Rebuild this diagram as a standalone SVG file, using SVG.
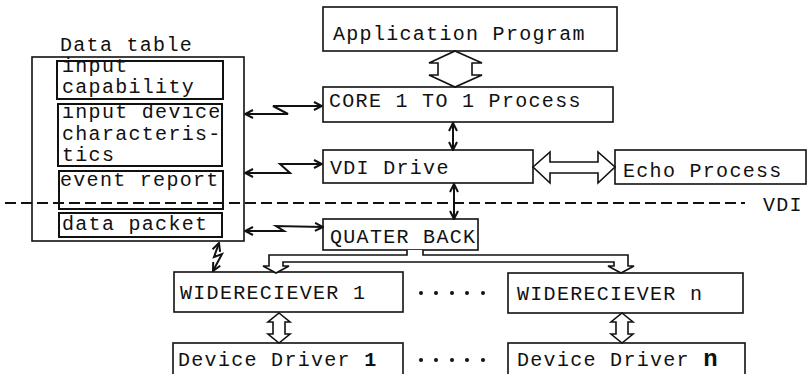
<svg xmlns="http://www.w3.org/2000/svg" width="809" height="374" viewBox="0 0 809 374">
<defs>
<style>
.t{font-family:"Liberation Mono","Courier New",monospace;font-size:20px;letter-spacing:1.3px;fill:#111}
.b{fill:#fff;stroke:#111;stroke-width:1.6}
.ib{fill:none;stroke:#111;stroke-width:2}
.c{fill:none;stroke:#111;stroke-width:2;marker-start:url(#ah);marker-end:url(#ah)}
.h{fill:#fff;stroke:#111;stroke-width:1.6;stroke-linejoin:miter}
.dot{fill:#111}
</style>
<marker id="ah" viewBox="0 0 10 10" refX="9" refY="5" markerWidth="10" markerHeight="10" markerUnits="userSpaceOnUse" orient="auto-start-reverse">
<path d="M1,1 L9,5 L1,9" fill="none" stroke="#111" stroke-width="2"/>
</marker>
</defs>

<g id="data-table">
<text class="t" x="60" y="51">Data table</text>
<rect class="b" x="32" y="57" width="212" height="184"/>
<g id="input-capability">
<rect class="ib" x="57" y="61" width="166" height="38"/>
<text class="t" x="62" y="72">input</text>
<text class="t" x="62" y="93">capability</text>
</g>
<g id="input-device-characteristics">
<rect class="ib" x="58" y="104" width="164" height="62"/>
<text class="t" x="62" y="118">input device</text>
<text class="t" x="62" y="140">characteris-</text>
<text class="t" x="62" y="161">tics</text>
</g>
<g id="event-report">
<rect class="ib" x="59" y="171" width="164" height="38"/>
<text class="t" x="60" y="186">event report</text>
</g>
<g id="data-packet">
<rect class="ib" x="59" y="213" width="163" height="24"/>
<text class="t" x="62" y="230">data packet</text>
</g>
</g>

<g id="application-program">
<rect class="b" x="323" y="7" width="294" height="44"/>
<text class="t" x="333" y="40">Application Program</text>
</g>

<g id="core-process">
<rect class="b" x="323" y="87" width="290" height="35"/>
<text class="t" x="329" y="107">CORE 1 TO 1 Process</text>
</g>

<g id="vdi-drive">
<rect class="b" x="323" y="150" width="210" height="33"/>
<text class="t" x="330" y="174">VDI Drive</text>
</g>

<g id="echo-process">
<rect class="b" x="615" y="150" width="191" height="34"/>
<text class="t" x="623" y="177">Echo Process</text>
</g>

<g id="quater-back">
<rect class="b" x="323" y="219" width="155" height="31"/>
<text class="t" x="330" y="243">QUATER BACK</text>
</g>

<g id="widereciever-1">
<rect class="b" x="174" y="272" width="229" height="40"/>
<text class="t" x="180" y="299">WIDERECIEVER 1</text>
</g>

<g id="widereciever-n">
<rect class="b" x="508" y="273" width="235" height="40"/>
<text class="t" x="517" y="300">WIDERECIEVER n</text>
</g>

<g id="device-driver-1">
<rect class="b" x="173" y="343" width="230" height="40"/>
<text class="t" x="178" y="366">Device Driver <tspan font-weight="bold">1</tspan></text>
</g>

<g id="device-driver-n">
<rect class="b" x="508" y="343" width="237" height="40"/>
<text class="t" x="517" y="366">Device Driver <tspan font-weight="bold" font-size="24">n</tspan></text>
</g>

<g id="ellipsis">
<circle class="dot" cx="421" cy="293" r="2"/><circle class="dot" cx="436" cy="293" r="2"/><circle class="dot" cx="452" cy="293" r="2"/><circle class="dot" cx="467" cy="293" r="2"/><circle class="dot" cx="483" cy="293" r="2"/>
<circle class="dot" cx="421" cy="360" r="2"/><circle class="dot" cx="436" cy="360" r="2"/><circle class="dot" cx="452" cy="360" r="2"/><circle class="dot" cx="467" cy="360" r="2"/><circle class="dot" cx="483" cy="360" r="2"/>
</g>

<g id="connectors">
<polygon class="h" points="455,51 482,63 472,63 472,75 482,75 455,87 429,75 438,75 438,63 429,63"/>
<polygon class="h" points="533,167 550,152 550,162 598,162 598,152 615,167 598,183 598,173 550,173 550,183"/>
<polygon class="h" points="279,313 290,322 285,322 285,334 290,334 279,343 268,334 273,334 273,322 268,322"/>
<polygon class="h" points="622,313 633,322 628,322 628,334 633,334 622,343 611,334 616,334 616,322 611,322"/>
<polyline class="h" points="407,250 407,255 269,255 269,266 263,266 276,273 289,266 283,266 283,262 614,262 614,266 608,266 621,273 634,266 628,266 628,255 423,255 423,250"/>
<line class="c" x1="453" y1="123" x2="453" y2="150"/>
<line class="c" x1="454" y1="184" x2="454" y2="219"/>
<polyline class="c" points="245,114 288,114 273,106 322,106"/>
<polyline class="c" points="245,173 290,173 280,164 322,164"/>
<polyline class="c" points="245,231 284,231 276,226 323,227"/>
<polyline class="c" points="219,243 214,257 222,254 213,271"/>
</g>

<g id="vdi-boundary">
<line x1="5" y1="203" x2="745" y2="203" stroke="#111" stroke-width="2.2" stroke-dasharray="11 5"/>
<text class="t" x="763" y="211">VDI</text>
</g>
</svg>
